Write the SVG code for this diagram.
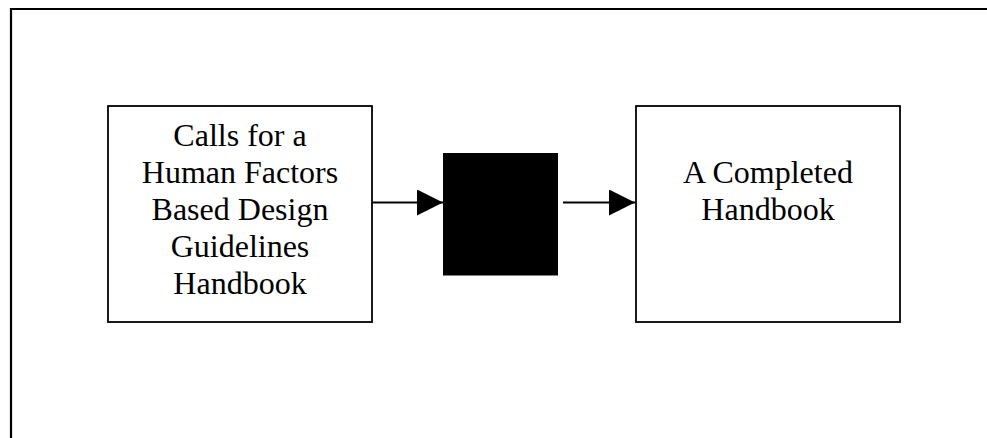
<svg xmlns="http://www.w3.org/2000/svg" width="987" height="438" viewBox="0 0 987 438">
<style>
.box{fill:#fff;stroke:#000;stroke-width:1.8}
.lbl{font-family:"Liberation Serif","Times New Roman",serif;font-size:32px;fill:#000;text-anchor:middle}
.conn{stroke:#000;stroke-width:1.8;fill:none}
</style>
<defs>
<marker id="arr" markerWidth="26" markerHeight="26" viewBox="0 0 26 26" refX="26" refY="13" markerUnits="userSpaceOnUse" orient="auto">
<path d="M0,0 L26,13 L0,26 Z" fill="#000"/>
</marker>
</defs>
<rect width="987" height="438" fill="#fff"/>
<path d="M11,438 L11,9 L987,9" fill="none" stroke="#000" stroke-width="2.2"/>
<g id="node-calls">
<rect class="box" x="108" y="106" width="264" height="216"/>
<text class="lbl" x="240" y="146">Calls for a</text>
<text class="lbl" x="240" y="183">Human Factors</text>
<text class="lbl" x="240" y="220">Based Design</text>
<text class="lbl" x="240" y="257">Guidelines</text>
<text class="lbl" x="240" y="294">Handbook</text>
</g>
<g id="node-blackbox">
<rect x="443.5" y="153.5" width="114" height="121.5" fill="#000" stroke="#000" stroke-width="1"/>
</g>
<g id="node-completed">
<rect class="box" x="636" y="106" width="264" height="216"/>
<text class="lbl" x="768" y="183">A Completed</text>
<text class="lbl" x="768" y="220">Handbook</text>
</g>
<g id="connectors">
<line class="conn" x1="372" y1="202.5" x2="443" y2="202.5" marker-end="url(#arr)"/>
<line class="conn" x1="563" y1="202.5" x2="635" y2="202.5" marker-end="url(#arr)"/>
</g>
</svg>
